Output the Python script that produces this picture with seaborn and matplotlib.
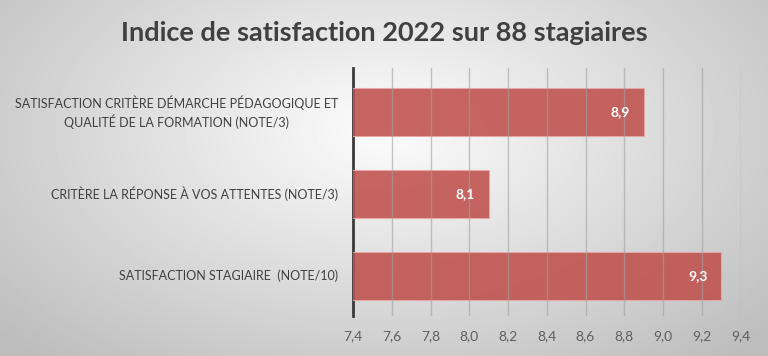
import numpy as np
import pandas as pd
import matplotlib
matplotlib.use("Agg")
import matplotlib.pyplot as plt
import matplotlib.transforms as mtransforms
import seaborn as sns

# chart data
categories = [
    "SATISFACTION CRITÈRE DÉMARCHE PÉDAGOGIQUE ET\nQUALITÉ DE LA FORMATION (NOTE/3)",
    "CRITÈRE LA RÉPONSE À VOS ATTENTES (NOTE/3)",
    "SATISFACTION STAGIAIRE  (NOTE/10)",
]
scores = [8.9, 8.1, 9.3]
x_ticks = [7.4, 7.6, 7.8, 8.0, 8.2, 8.4, 8.6, 8.8, 9.0, 9.2, 9.4]
title = "Indice de satisfaction 2022 sur 88 stagiaires"

df = pd.DataFrame({"critere": categories, "note": scores})

sns.set_style("white")
plt.rcParams["font.family"] = ["Lato", "DejaVu Sans"]

fig = plt.figure(figsize=(7.68, 3.56), dpi=100)

# radial grey background like the office chart
bg = fig.add_axes([0, 0, 1, 1], zorder=-10)
yy, xx = np.mgrid[0:356, 0:768]
r = np.sqrt(((xx - 384) / 500.0) ** 2 + ((yy - 130) / 290.0) ** 2)
shade = np.clip(0.99 - 0.24 * r, 0.74, 1.0)
bg.imshow(shade, cmap="gray", vmin=0, vmax=1, aspect="auto", interpolation="bilinear")
bg.axis("off")

ax = fig.add_axes([353 / 768, 1 - 316 / 356, (740.5 - 353) / 768, (316 - 68) / 356])
ax.patch.set_alpha(0)

sns.barplot(data=df, x="note", y="critere", orient="h", ax=ax,
            color="#c0504d", saturation=1, alpha=0.88, width=0.59,
            edgecolor="#eaa8a6", linewidth=0.8, zorder=3)

ax.set_xlim(7.4, 9.4)
ax.set_ylim(2.49, -0.54)
ax.set_xticks(x_ticks)
ax.set_xticklabels([f"{t:.1f}".replace(".", ",") for t in x_ticks],
                   fontsize=10, color="#5f5f5f")
ax.tick_params(axis="x", length=0, pad=10)

# category labels drawn by hand so the two-line one is centred
ax.set_yticks(range(len(categories)))
ax.set_yticklabels([])
ax.tick_params(axis="y", length=0)
offset = mtransforms.ScaledTranslation(-15 / 100, 0, fig.dpi_scale_trans)
for i, cat in enumerate(categories):
    ax.text(0, i, cat, transform=ax.get_yaxis_transform() + offset,
            ha="right", va="center", multialignment="center",
            fontsize=9.0, color="#404040", linespacing=1.35)

for t in x_ticks[1:]:
    ax.axvline(t, color="#a0a0a0", lw=1.0, zorder=4, alpha=0.6)

ax.set_xlabel("")
ax.set_ylabel("")
for side in ["top", "right", "bottom"]:
    ax.spines[side].set_visible(False)
ax.spines["left"].set_color("#3a3a3a")
ax.spines["left"].set_linewidth(2)

for i, v in enumerate(scores):
    ax.text(v - 0.07, i, f"{v:.1f}".replace(".", ","), ha="right", va="center",
            color="white", fontsize=10, fontweight="bold", zorder=5)

fig.text(0.5, 1 - 33 / 356, title, ha="center", va="center",
         fontsize=19.5, fontweight="bold", color="#404040")

fig.savefig("out.png", dpi=100)
